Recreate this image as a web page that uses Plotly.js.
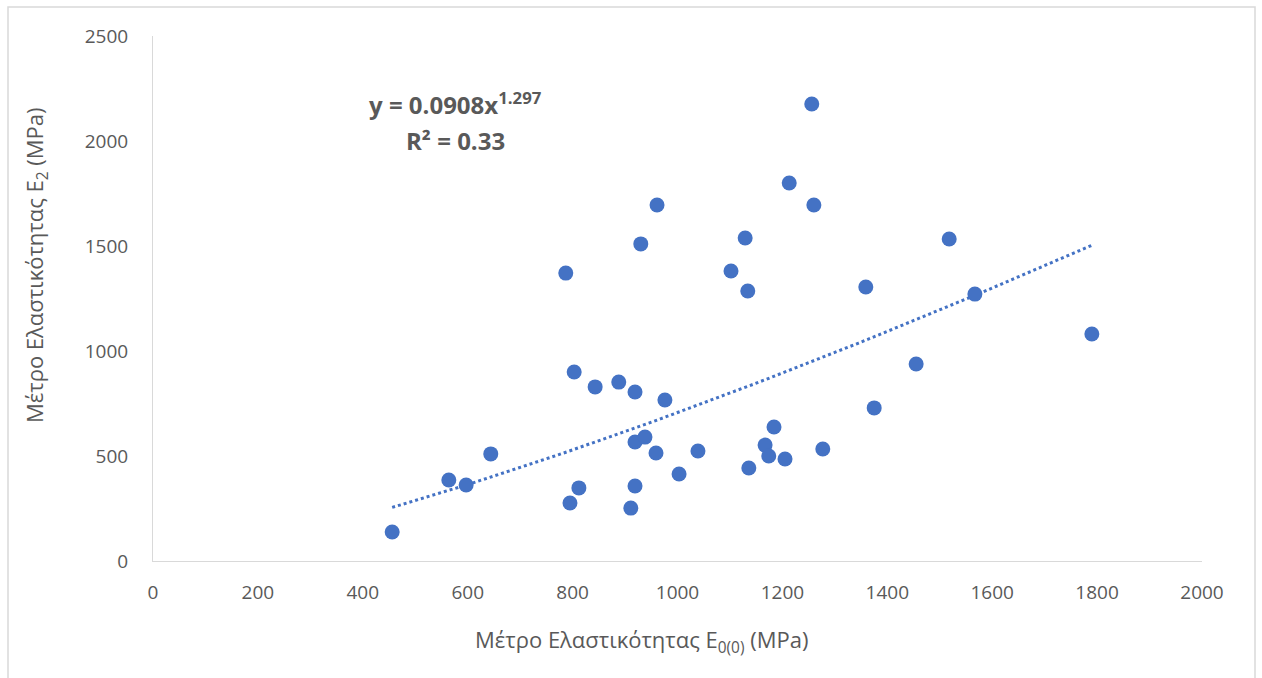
<!DOCTYPE html>
<html>
<head>
<meta charset="utf-8">
<script src="https://cdn.plot.ly/plotly-3.0.1.min.js"></script>
<style>html,body{margin:0;padding:0;background:#fff;}#chart{width:1262px;height:678px;}</style>
</head>
<body>
<div id="chart"></div>
<script>
// Modulus E0(0) (MPa)
const e00 = [456, 564, 597, 644, 787, 795, 803, 812, 843, 888, 919, 930, 961, 976,
             911, 919, 919, 938, 959, 1003, 1039, 1102, 1129, 1134, 1136, 1167, 1174,
             1184, 1205, 1213, 1256, 1260, 1277, 1359, 1375, 1455, 1518, 1567, 1790];
// Modulus E2 (MPa)
const e2  = [138, 386, 362, 510, 1371, 276, 900, 348, 829, 852, 805, 1510, 1695, 767,
             252, 357, 567, 590, 514, 414, 524, 1381, 1538, 1286, 443, 552, 500,
             638, 486, 1800, 2176, 1695, 533, 1305, 729, 938, 1533, 1271, 1081];
// Power trendline coefficients (y = a * x^b) as shown on the chart
const trendA = 0.0908;
const trendB = 1.297;
const eqText = "y = 0.0908x<sup>1.297</sup>";
const r2Text = "R² = 0.33";
const xTickVals = [0, 200, 400, 600, 800, 1000, 1200, 1400, 1600, 1800, 2000];
const yTickVals = [0, 500, 1000, 1500, 2000, 2500];

const xMin = Math.min(...e00), xMax = Math.max(...e00);
const trendX = [], trendY = [];
for (let i = 0; i <= 60; i++) {
  const x = xMin + (xMax - xMin) * i / 60;
  trendX.push(x);
  trendY.push(trendA * Math.pow(x, trendB));
}

const blue = '#4472C4';
const grey = '#595959';
const font = 'Open Sans, Liberation Sans, sans-serif';

const data = [
  {x: trendX, y: trendY, type: 'scatter', mode: 'lines',
   line: {color: blue, width: 3, dash: 'dot'}, hoverinfo: 'skip', showlegend: false},
  {x: e00, y: e2, type: 'scatter', mode: 'markers',
   marker: {color: blue, size: 15, line: {width: 0}}, showlegend: false}
];

const layout = {
  width: 1262, height: 678,
  margin: {l: 153, r: 60, t: 36, b: 117},
  paper_bgcolor: '#fff', plot_bgcolor: '#fff',
  font: {family: font, color: grey, size: 19},
  showlegend: false,
  xaxis: {range: [0, 2000], tickvals: xTickVals, showgrid: false, zeroline: false,
          showline: true, linecolor: '#d9d9d9', linewidth: 1, ticks: '',
          tickfont: {size: 19, color: grey}, ticklabelstandoff: 14, fixedrange: true},
  yaxis: {range: [0, 2500], tickvals: yTickVals, showgrid: false, zeroline: false,
          showline: true, linecolor: '#d9d9d9', linewidth: 1, ticks: '',
          tickfont: {size: 19, color: grey}, ticklabelstandoff: 20, fixedrange: true},
  annotations: [
    {xref: 'paper', yref: 'paper', x: (641-153)/1049, y: (561-641)/525, xanchor: 'center', yanchor: 'middle',
     text: 'Μέτρο Ελαστικότητας E<sub>0(0)</sub> (MPa)', showarrow: false, font: {size: 22, color: grey}},
    {xref: 'paper', yref: 'paper', x: (36-153)/1049, y: (561-265)/525, xanchor: 'center', yanchor: 'middle',
     text: 'Μέτρο Ελαστικότητας E<sub>2</sub> (MPa)', textangle: -90, showarrow: false, font: {size: 22, color: grey}},
    {xref: 'paper', yref: 'paper', x: (455-153)/1049, y: (561-103)/525, xanchor: 'center', yanchor: 'middle',
     text: '<b>' + eqText + '</b>', showarrow: false, font: {size: 24, color: grey}},
    {xref: 'paper', yref: 'paper', x: (455-153)/1049, y: (561-140)/525, xanchor: 'center', yanchor: 'middle',
     text: '<b>' + r2Text + '</b>', showarrow: false, font: {size: 24, color: grey}}
  ],
  shapes: [
    {type: 'rect', xref: 'paper', yref: 'paper', layer: 'below',
     x0: (8-153)/1049, x1: (1255-153)/1049, y0: (561-690)/525, y1: (561-7)/525,
     line: {color: '#d9d9d9', width: 1.5}, fillcolor: 'rgba(0,0,0,0)'}
  ]
};

Plotly.newPlot('chart', data, layout, {displayModeBar: false, staticPlot: true});
</script>
</body>
</html>
